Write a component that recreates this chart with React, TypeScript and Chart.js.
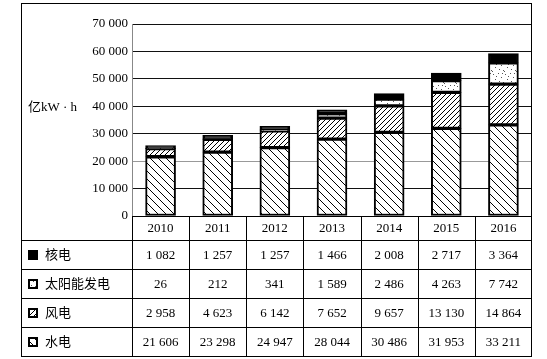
import React, { useEffect, useRef } from "react";
import { Chart, registerables } from "chart.js";
Chart.register(...registerables);

const years = ["2010", "2011", "2012", "2013", "2014", "2015", "2016"];
const nuclear = [1082, 1257, 1257, 1466, 2008, 2717, 3364];
const solar = [26, 212, 341, 1589, 2486, 4263, 7742];
const wind = [2958, 4623, 6142, 7652, 9657, 13130, 14864];
const hydro = [21606, 23298, 24947, 28044, 30486, 31953, 33211];
const seriesNames = ["核电", "太阳能发电", "风电", "水电"];
const unitLabel = "亿kW · h";
const yMax = 70000;
const yStep = 10000;

const FONT = "'Liberation Serif', 'Noto Sans CJK SC', serif";

function fmt(n: number): string {
  return String(n).replace(/\B(?=(\d{3})+(?!\d))/g, " ");
}

function makePattern(kind: string): CanvasPattern | string {
  const c = document.createElement("canvas");
  const g = c.getContext("2d")!;
  if (kind === "hydro") {
    const s = 8;
    c.width = s; c.height = s;
    g.fillStyle = "#fff"; g.fillRect(0, 0, s, s);
    g.strokeStyle = "#000"; g.lineWidth = 1;
    g.beginPath();
    g.moveTo(-1, -1); g.lineTo(s + 1, s + 1);
    g.stroke();
  } else if (kind === "wind") {
    const s = 5;
    c.width = s; c.height = s;
    g.fillStyle = "#fff"; g.fillRect(0, 0, s, s);
    g.strokeStyle = "#000"; g.lineWidth = 1;
    g.beginPath();
    g.moveTo(-1, s + 1); g.lineTo(s + 1, -1);
    g.stroke();
  } else if (kind === "solar") {
    const s = 12;
    c.width = s; c.height = s;
    g.fillStyle = "#fff"; g.fillRect(0, 0, s, s);
    g.fillStyle = "#555";
    const dots = [[1, 2], [6, 1], [9, 5], [3, 7], [7, 9], [11, 10], [0, 11], [4, 4], [10, 1]];
    dots.forEach(([x, y]) => g.fillRect(x, y, 1, 1));
  } else {
    return "#000";
  }
  return g.createPattern(c, "repeat")!;
}

export default function App() {
  const ref = useRef<HTMLCanvasElement>(null);
  useEffect(() => {
    const canvas = ref.current!;
    const pHydro = makePattern("hydro");
    const pWind = makePattern("wind");
    const pSolar = makePattern("solar");
    const pNuc = makePattern("nuclear");
    const fills = [pNuc, pSolar, pWind, pHydro];

    const tablePlugin = {
      id: "table",
      afterDraw(chart: any) {
        const ctx = chart.ctx as CanvasRenderingContext2D;
        const xs = chart.scales.x;
        const area = chart.chartArea;
        const L = 21;
        const R = area.right;
        const top = 3;
        const headerH = 24;
        const rowH = 29;
        const rows = [area.bottom, area.bottom + headerH];
        for (let i = 0; i < 4; i++) rows.push(rows[rows.length - 1] + rowH);
        const B = rows[rows.length - 1];
        const n = years.length;
        const cw = (xs.right - xs.left) / n;
        ctx.save();
        ctx.strokeStyle = "#000";
        ctx.lineWidth = 1;
        ctx.strokeRect(L + 0.5, top + 0.5, R - L - 1, B - top);
        ctx.beginPath();
        ctx.moveTo(area.left, Math.round(rows[0]) + 0.5);
        ctx.lineTo(R, Math.round(rows[0]) + 0.5);
        for (let i = 1; i < rows.length; i++) {
          ctx.moveTo(L, Math.round(rows[i]) + 0.5);
          ctx.lineTo(R, Math.round(rows[i]) + 0.5);
        }
        for (let i = 0; i < n; i++) {
          const xl = Math.round(xs.left + i * cw) + 0.5;
          ctx.moveTo(xl, rows[0]);
          ctx.lineTo(xl, B);
        }
        ctx.stroke();

        ctx.fillStyle = "#000";
        ctx.font = `13px ${FONT}`;
        ctx.textAlign = "center";
        ctx.textBaseline = "middle";
        years.forEach((y, i) => {
          ctx.fillText(y, xs.getPixelForValue(i), (rows[0] + rows[1]) / 2 + 1);
        });
        const data = [nuclear, solar, wind, hydro];
        data.forEach((arr, r) => {
          const cy = (rows[r + 1] + rows[r + 2]) / 2 + 1;
          arr.forEach((v, i) => {
            ctx.textAlign = "center";
            ctx.fillText(fmt(v), xs.getPixelForValue(i), cy);
          });
          const sx = 28, sy = Math.round(cy - 6);
          ctx.fillStyle = fills[r] as any;
          ctx.fillRect(sx, sy, 10, 10);
          ctx.lineWidth = 2;
          ctx.strokeRect(sx + 1, sy + 1, 8, 8);
          ctx.lineWidth = 1;
          ctx.fillStyle = "#000";
          ctx.textAlign = "left";
          ctx.fillText(seriesNames[r], 45, cy);
        });

        ctx.textAlign = "left";
        ctx.textBaseline = "middle";
        ctx.font = `13px ${FONT}`;
        ctx.fillText(unitLabel, 28, 108);
        ctx.restore();
      },
    };

    const chart = new Chart(canvas, {
      type: "bar",
      data: {
        labels: years,
        datasets: [
          { label: seriesNames[3], data: hydro, backgroundColor: pHydro as any },
          { label: seriesNames[2], data: wind, backgroundColor: pWind as any },
          { label: seriesNames[1], data: solar, backgroundColor: pSolar as any },
          { label: seriesNames[0], data: nuclear, backgroundColor: pNuc as any },
        ].map((d) => ({
          ...d,
          borderColor: "#000",
          borderWidth: 2,
          borderSkipped: false,
          barThickness: 30,
        })),
      },
      options: {
        responsive: false,
        animation: false,
        layout: { padding: { left: 0, right: 15, top: 24, bottom: 143 } },
        plugins: { legend: { display: false }, tooltip: { enabled: false } },
        scales: {
          x: {
            stacked: true,
            display: false,
            grid: { display: false },
          },
          y: {
            stacked: true,
            min: 0,
            max: yMax,
            afterFit(scale: any) {
              scale.width = 132;
            },
            ticks: {
              stepSize: yStep,
              color: "#000",
              padding: 4,
              font: { family: FONT, size: 13 },
              callback: (v: any) => fmt(Number(v)),
            },
            grid: {
              drawTicks: false,
              color: (c: any) => (c.tick && c.tick.value === 20000 ? "#999" : "#111"),
              lineWidth: 1,
            },
            border: { display: true, color: "#888" },
          },
        },
      },
      plugins: [tablePlugin],
    });
    return () => chart.destroy();
  }, []);
  return (
    <div style={{ position: "fixed", left: 0, top: 0, width: 547, height: 359, background: "#fff" }}>
      <canvas ref={ref} width={547} height={359} style={{ display: "block" }} />
    </div>
  );
}
